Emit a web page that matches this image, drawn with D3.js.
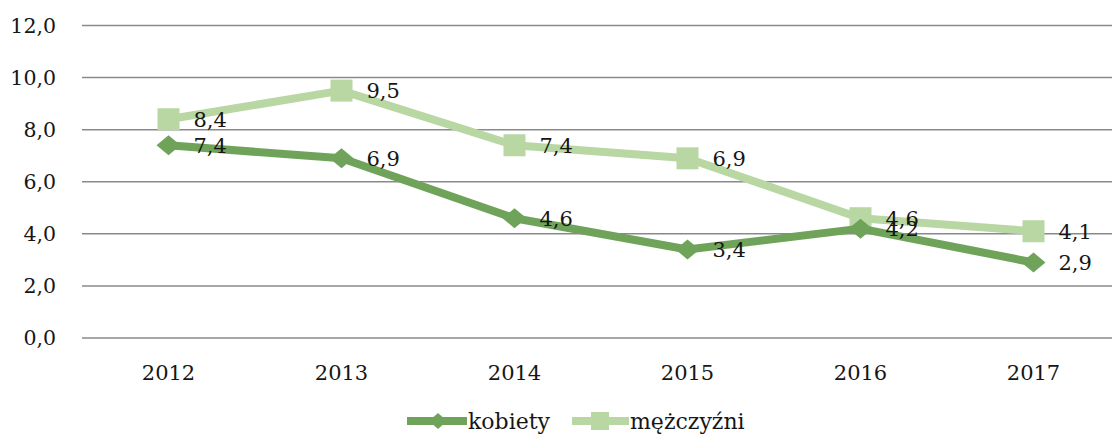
<!DOCTYPE html>
<html>
<head>
<meta charset="utf-8">
<script src="https://cdn.jsdelivr.net/npm/d3@7"></script>
<style>
  html, body { margin: 0; padding: 0; background: #fff; }
  #chart { width: 1112px; height: 435px; }
  text { font-family: "DejaVu Serif", "Liberation Serif", serif; fill: #161616; }
</style>
</head>
<body>
<div id="chart"></div>
<script>
const years = ["2012", "2013", "2014", "2015", "2016", "2017"];
const kobiety = [7.4, 6.9, 4.6, 3.4, 4.2, 2.9];
const mezczyzni = [8.4, 9.5, 7.4, 6.9, 4.6, 4.1];
const yTicks = [0, 2, 4, 6, 8, 10, 12];

const COLORS = {
  kobiety: "#6fa35a",
  mezczyzni: "#b8d7a3",
  grid: "#8a8a8a",
};

const formatValue = (v) => d3.format(".1f")(v).replace(".", ",");

const width = 1112;
const height = 435;

const svg = d3
  .select("#chart")
  .append("svg")
  .attr("width", width)
  .attr("height", height);

const x = d3.scaleBand().domain(years).range([82, 1120]);
const y = d3.scaleLinear().domain([0, 12]).range([338, 25.5]);
const cx = (d) => x(d) + x.bandwidth() / 2;

// grid + y labels
svg
  .append("g")
  .selectAll("line")
  .data(yTicks)
  .join("line")
  .attr("x1", 82)
  .attr("x2", 1120)
  .attr("y1", (d) => y(d))
  .attr("y2", (d) => y(d))
  .attr("stroke", COLORS.grid)
  .attr("stroke-width", 1.5);

svg
  .append("g")
  .selectAll("text")
  .data(yTicks)
  .join("text")
  .attr("x", 56)
  .attr("y", (d) => y(d))
  .attr("dy", "0.36em")
  .attr("text-anchor", "end")
  .attr("font-size", 20.5)
  .text(formatValue);

svg
  .append("g")
  .selectAll("text")
  .data(years)
  .join("text")
  .attr("x", (d) => cx(d))
  .attr("y", 380)
  .attr("text-anchor", "middle")
  .attr("font-size", 21)
  .text((d) => d);

const line = d3
  .line()
  .x((d) => cx(d.year))
  .y((d) => y(d.value));

const series = [
  { key: "mezczyzni", values: mezczyzni, shape: "square" },
  { key: "kobiety", values: kobiety, shape: "diamond" },
];

function drawMarker(g, shape, color) {
  if (shape === "square") {
    g.append("rect")
      .attr("x", -11)
      .attr("y", -11)
      .attr("width", 22)
      .attr("height", 22)
      .attr("fill", color);
  } else {
    g.append("path")
      .attr("d", "M-12,0L0,-10L12,0L0,10Z")
      .attr("fill", color);
  }
}

series.forEach((s) => {
  const pts = years.map((yr, i) => ({ year: yr, value: s.values[i] }));
  const color = COLORS[s.key];
  svg
    .append("path")
    .datum(pts)
    .attr("fill", "none")
    .attr("stroke", color)
    .attr("stroke-width", 8)
    .attr("stroke-linejoin", "round")
    .attr("d", line);

  svg
    .append("g")
    .selectAll("g")
    .data(pts)
    .join("g")
    .attr("transform", (d) => `translate(${cx(d.year)},${y(d.value)})`)
    .each(function () {
      drawMarker(d3.select(this), s.shape, color);
    });
});

series.forEach((s) => {
  svg
    .append("g")
    .selectAll("text")
    .data(years.map((yr, i) => ({ year: yr, value: s.values[i] })))
    .join("text")
    .attr("x", (d) => cx(d.year) + 25)
    .attr("y", (d) => y(d.value))
    .attr("dy", "0.36em")
    .attr("font-size", 21)
    .text((d) => formatValue(d.value));
});

// legend
const legend = [
  { label: "kobiety", key: "kobiety", shape: "diamond", x0: 407, x1: 467, mx: 438 },
  { label: "mężczyźni", key: "mezczyzni", shape: "square", x0: 572, x1: 629, mx: 600 },
];
const ly = 421;
legend.forEach((l) => {
  const color = COLORS[l.key];
  svg
    .append("line")
    .attr("x1", l.x0)
    .attr("x2", l.x1)
    .attr("y1", ly)
    .attr("y2", ly)
    .attr("stroke", color)
    .attr("stroke-width", 8);
  const g = svg.append("g").attr("transform", `translate(${l.mx},${ly})`);
  if (l.shape === "square") {
    g.append("rect").attr("x", -9).attr("y", -9).attr("width", 18).attr("height", 18).attr("fill", color);
  } else {
    g.append("path").attr("d", "M-9,0L0,-8L9,0L0,8Z").attr("fill", color);
  }
  svg
    .append("text")
    .attr("x", l.x1 + 1)
    .attr("y", ly)
    .attr("dy", "0.36em")
    .attr("font-size", 22)
    .text(l.label);
});
</script>
</body>
</html>
